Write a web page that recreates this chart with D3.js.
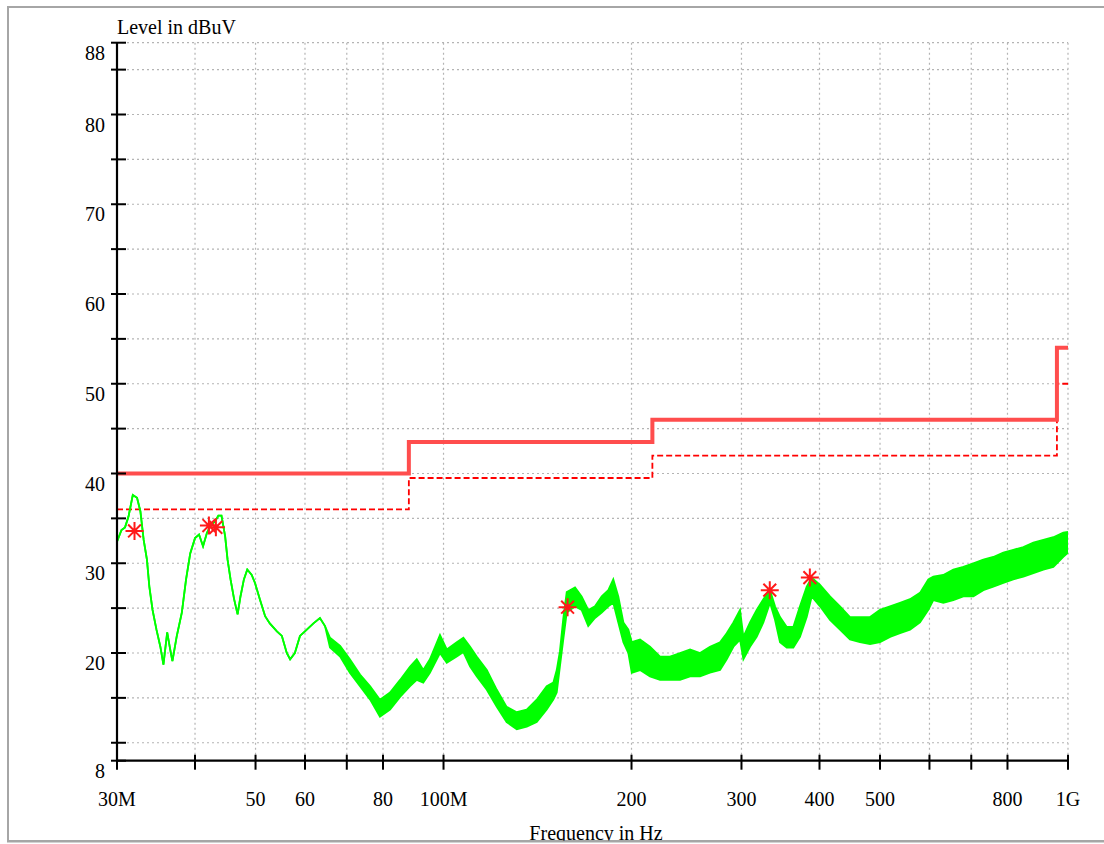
<!DOCTYPE html>
<html>
<head>
<meta charset="utf-8">
<script src="https://cdn.jsdelivr.net/npm/d3@7"></script>
<style>
  html, body { margin: 0; padding: 0; background: #fff; }
  svg { display: block; }
  text { font-family: "Liberation Serif", "Times New Roman", serif; fill: #000; }
</style>
</head>
<body>
<svg id="chart" width="1104" height="844"></svg>
<script>
// ---------- data ----------
const freqTicks = [30, 40, 50, 60, 70, 80, 100, 200, 300, 400, 500, 600, 700, 800, 1000];
const freqTickLabels = ["30M", "", "50", "60", "", "80", "100M", "200", "300", "400", "500", "", "", "800", "1G"];
const levelTicks = [8, 10, 15, 20, 25, 30, 35, 40, 45, 50, 55, 60, 65, 70, 75, 80, 85, 88];
const levelLabels = [8, 20, 30, 40, 50, 60, 70, 80, 88];
const levelGrid = [10, 15, 20, 25, 30, 35, 40, 45, 50, 55, 60, 65, 70, 75, 80, 85, 88];

// limit lines (MHz edges, dBuV)
const limitEdges = [30, 88, 216, 960, 1000];
const limitLevel = [40, 43.5, 46, 54];
const marginLevel = [36, 39.5, 42, 50];

// measured trace: frequency (MHz), upper and lower envelope (dBuV)
const traceFreq = [30.0, 30.5, 30.9, 31.3, 31.8, 32.3, 32.7, 33.1, 33.5, 33.8, 34.2, 34.7, 35.2, 35.6, 36.1, 36.5, 36.8, 37.4,
  38.1, 38.7, 39.3, 40.0, 40.6, 41.2, 41.8, 42.3, 43.1, 43.6, 44.1, 44.7, 45.1, 45.6, 46.2, 46.8, 47.3, 47.9, 48.5, 49.3,
  49.9, 50.8, 51.8, 52.7, 54.1, 55.1, 56.1, 56.8, 57.8, 58.9, 60.4, 61.9, 63.4, 64.6,
  65.8, 68.3, 70.8, 73.5, 76.3, 79.1, 82.1, 85.2, 88.4, 90.6, 92.8, 95.1, 98.7, 101.2, 105.0, 107.6, 110.3, 113.0,
  117.3, 121.7, 126.2, 131.0, 135.9, 141.0, 146.3, 149.9, 151.8, 153.6, 155.5, 157.5, 162.4, 166.4, 170.5, 174.8,
  179.2, 183.6, 187.0, 190.5, 194.1, 197.7, 200.2, 206.4, 214.1, 222.2, 230.5, 239.2, 248.2, 257.5, 267.1, 277.2,
  284.1, 291.2, 298.4, 302.1, 309.6, 317.3, 325.2, 333.3, 339.5, 345.8, 354.5, 363.2, 372.2, 381.6, 388.7, 400.8,
  415.8, 431.4, 447.6, 464.4, 482.0, 500.0, 518.8, 538.3, 558.5, 579.4, 597.5, 608.6, 631.4, 655.2, 679.9, 705.4,
  731.8, 759.3, 787.8, 817.3, 848.3, 880.1, 913.1, 947.4, 982.9, 1000];
const traceHigh = [32.4, 33.7, 34.0, 35.2, 37.6, 37.3, 35.8, 32.6, 30.4, 27.4, 24.8, 22.6, 20.7, 18.7, 22.3, 20.4, 19.1, 21.9,
  24.5, 28.2, 31.1, 32.8, 33.2, 31.9, 33.4, 34.1, 34.7, 35.3, 35.3, 33.0, 30.4, 28.2, 26.0, 24.3, 26.3, 28.2, 29.3, 28.7,
  27.8, 26.0, 24.1, 23.3, 22.4, 21.9, 20.0, 19.3, 20.0, 21.9, 22.6, 23.3, 23.9, 23.0,
  21.7, 20.8, 19.3, 17.6, 16.3, 14.8, 15.6, 17.0, 18.5, 19.3, 18.1, 19.3, 22.0, 20.4, 21.2, 21.7, 20.7, 19.6,
  18.1, 15.9, 14.0, 13.4, 13.7, 14.8, 16.3, 16.7, 18.1, 20.2, 23.8, 26.8, 27.3, 26.3, 24.8, 25.2,
  26.3, 27.0, 28.2, 26.3, 23.4, 22.6, 21.2, 21.5, 20.7, 19.6, 19.6, 20.0, 20.4, 20.0, 20.7, 21.2,
  22.2, 23.4, 24.8, 21.8, 23.4, 24.8, 26.0, 27.0, 25.2, 24.0, 22.9, 22.9, 25.2, 27.4, 28.4, 27.6,
  26.3, 25.2, 24.0, 24.0, 24.0, 24.8, 25.2, 25.6, 26.0, 26.7, 28.2, 28.5, 28.7, 29.3, 29.6, 30.0,
  30.4, 30.7, 31.2, 31.5, 31.8, 32.3, 32.6, 32.9, 33.4, 33.5];
const traceLow = [32.4, 33.7, 34.0, 35.2, 37.6, 37.3, 35.8, 32.6, 30.4, 27.4, 24.8, 22.6, 20.7, 18.7, 22.3, 20.4, 19.1, 21.9,
  24.5, 28.2, 31.1, 32.8, 33.2, 31.9, 33.4, 34.1, 34.7, 35.3, 35.3, 33.0, 30.4, 28.2, 26.0, 24.3, 26.3, 28.2, 29.3, 28.7,
  27.8, 26.0, 24.1, 23.3, 22.4, 21.9, 20.0, 19.3, 20.0, 21.9, 22.6, 23.3, 23.9, 23.0,
  20.6, 19.6, 17.8, 16.3, 14.8, 12.9, 13.7, 15.1, 16.3, 17.0, 16.7, 17.8, 20.0, 18.9, 19.6, 20.1, 18.5, 17.4,
  15.9, 14.0, 12.3, 11.5, 11.8, 12.3, 13.7, 14.8, 15.6, 18.5, 21.5, 24.5, 25.2, 24.8, 23.0, 23.9,
  24.5, 25.2, 25.6, 23.4, 21.2, 20.0, 17.8, 18.1, 17.4, 17.0, 17.0, 17.0, 17.4, 17.4, 17.8, 18.1,
  19.3, 20.7, 21.5, 19.3, 20.7, 21.8, 23.4, 25.6, 23.7, 21.2, 20.6, 20.6, 21.8, 24.0, 26.3, 25.2,
  23.7, 22.6, 21.5, 21.2, 21.0, 21.2, 21.8, 22.2, 22.6, 23.4, 24.8, 25.9, 25.6, 25.9, 26.3, 26.3,
  27.0, 27.4, 27.8, 28.2, 28.5, 28.9, 29.3, 29.6, 30.7, 31.2];

// peak markers
const markerFreq = [32.0, 42.1, 43.2, 158.0, 333.0, 386.0];
const markerLevel = [33.6, 34.2, 34.0, 25.1, 27.0, 28.4];

// ---------- chart ----------
const svg = d3.select("#chart");
const x = d3.scaleLog().domain([30, 1000]).range([117, 1068]);
const y = d3.scaleLinear().domain([8, 88]).range([760.7, 42.7]);

// frame
svg.append("rect").attr("x", 8).attr("y", 7).attr("width", 1200).attr("height", 834)
  .attr("fill", "none").attr("stroke", "#a6a6a6").attr("stroke-width", 2);

// grid
const grid = svg.append("g").attr("stroke", "#b4b4b4").attr("stroke-width", 1.2).attr("stroke-dasharray", "2,3");
grid.selectAll("line.h").data(levelGrid).join("line")
  .attr("x1", x(30)).attr("x2", x(1000)).attr("y1", d => y(d)).attr("y2", d => y(d));
grid.selectAll("line.v").data(freqTicks.slice(1)).join("line")
  .attr("x1", d => x(d)).attr("x2", d => x(d)).attr("y1", y(88)).attr("y2", y(8));

// limit lines
const limitPts = limitEdges.map((f, i) => [f, limitLevel[Math.min(i, limitLevel.length - 1)]]);
const marginPts = limitEdges.map((f, i) => [f, marginLevel[Math.min(i, marginLevel.length - 1)]]);
const stepLine = d3.line().x(d => x(d[0])).y(d => y(d[1])).curve(d3.curveStepAfter);
svg.append("path").attr("d", stepLine(marginPts)).attr("fill", "none")
  .attr("stroke", "#ff0000").attr("stroke-width", 1.8).attr("stroke-dasharray", "6,3");
svg.append("path").attr("d", stepLine(limitPts)).attr("fill", "none")
  .attr("stroke", "#ff4d4d").attr("stroke-width", 4);

// trace
const trace = traceFreq.map((f, i) => ({ f, hi: traceHigh[i], lo: traceLow[i] }));
svg.append("path").datum(trace)
  .attr("d", d3.area().x(d => x(d.f)).y0(d => y(d.lo)).y1(d => y(d.hi)))
  .attr("fill", "#00ff00");
["hi", "lo"].forEach(k => {
  svg.append("path").datum(trace)
    .attr("d", d3.line().x(d => x(d.f)).y(d => y(d[k])))
    .attr("fill", "none").attr("stroke", "#00ff00").attr("stroke-width", 1.8);
});

// markers (8-ray asterisk)
const star = "M0,-9V9M-9,0H9M-6.4,-6.4L6.4,6.4M-6.4,6.4L6.4,-6.4";
svg.selectAll("path.mk").data(markerFreq).join("path")
  .attr("d", star)
  .attr("transform", (d, i) => `translate(${x(d)},${y(markerLevel[i])})`)
  .attr("stroke", "#ff1a1a").attr("stroke-width", 2).attr("fill", "none");

// axes
const ax = svg.append("g").attr("stroke", "#000");
ax.append("line").attr("x1", x(30)).attr("x2", x(1000)).attr("y1", y(8)).attr("y2", y(8)).attr("stroke-width", 2.2);
ax.append("line").attr("x1", x(30)).attr("x2", x(30)).attr("y1", y(88)).attr("y2", y(8)).attr("stroke-width", 2.2);
ax.selectAll("line.xt").data(freqTicks).join("line")
  .attr("x1", d => x(d)).attr("x2", d => x(d)).attr("y1", y(8) - 6).attr("y2", y(8) + 9).attr("stroke-width", 2);
ax.selectAll("line.yt").data(levelTicks).join("line")
  .attr("x1", x(30) - 6).attr("x2", x(30) + 9).attr("y1", d => y(d)).attr("y2", d => y(d)).attr("stroke-width", 2);

// tick labels
svg.selectAll("text.xl").data(freqTicks).join("text")
  .attr("x", d => x(d)).attr("y", 806).attr("text-anchor", "middle").attr("font-size", 20)
  .text((d, i) => freqTickLabels[i]);
svg.selectAll("text.yl").data(levelLabels).join("text")
  .attr("x", 105).attr("y", d => y(d) + 17).attr("text-anchor", "end").attr("font-size", 20)
  .text(d => d);

// titles
svg.append("text").attr("x", 117).attr("y", 34).attr("font-size", 20).text("Level in dBuV");
svg.append("text").attr("x", 596).attr("y", 840).attr("text-anchor", "middle").attr("font-size", 20).text("Frequency in Hz");
// frame bottom clipping the axis title
svg.append("rect").attr("x", 0).attr("y", 841).attr("width", 1104).attr("height", 3).attr("fill", "#fff");
svg.append("line").attr("x1", 7).attr("x2", 1104).attr("y1", 841.5).attr("y2", 841.5).attr("stroke", "#a6a6a6").attr("stroke-width", 2);
</script>
</body>
</html>
